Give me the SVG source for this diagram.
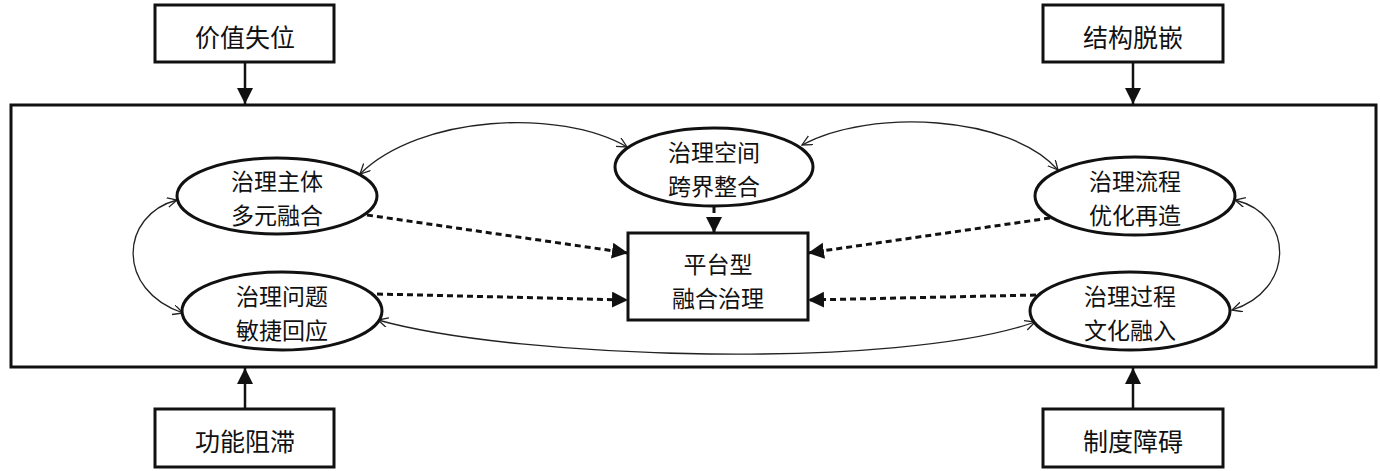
<svg xmlns="http://www.w3.org/2000/svg" width="1380" height="471" viewBox="0 0 1380 471">
<style>
  .box{fill:#fff;stroke:#111;stroke-width:3}
  .ell{fill:#fff;stroke:#111;stroke-width:3}
  .t{font-family:"Noto Sans CJK SC","Noto Sans CJK JP",sans-serif;font-size:23px;fill:#111;text-anchor:middle;dominant-baseline:central}
  .tb{font-size:25px}
  .solid{stroke:#111;stroke-width:2.5;fill:none;marker-end:url(#fill)}
  .dot{stroke:#111;stroke-width:3;stroke-dasharray:6,4;fill:none;marker-end:url(#fill)}
  .thin{stroke:#222;stroke-width:1.3;fill:none;marker-start:url(#open);marker-end:url(#open)}
</style>
<defs>
  <marker id="fill" markerUnits="userSpaceOnUse" markerWidth="18" markerHeight="18" refX="16" refY="8" orient="auto">
    <path d="M0,0 L16,8 L0,16 z" fill="#111"/>
  </marker>
  <marker id="open" markerUnits="userSpaceOnUse" markerWidth="12" markerHeight="12" refX="10" refY="5" orient="auto-start-reverse">
    <path d="M0,0 L10,5 L0,10" fill="none" stroke="#222" stroke-width="1.3"/>
  </marker>
</defs>
<rect x="11" y="105" width="1365" height="262" fill="#fff" stroke="#111" stroke-width="3"/>
<g id="connectors">
  <line class="solid" x1="245" y1="62" x2="245" y2="104"/>
  <line class="solid" x1="1133" y1="62" x2="1133" y2="104"/>
  <line class="solid" x1="245" y1="409" x2="245" y2="368"/>
  <line class="solid" x1="1133" y1="409" x2="1133" y2="368"/>
  <path class="thin" d="M360,174 C420,115 560,108 627,147"/>
  <path class="thin" d="M802,145 C870,108 1010,115 1058,170"/>
  <path class="thin" d="M177,200 C120,215 115,290 183,313"/>
  <path class="thin" d="M1235,200 C1295,215 1295,290 1232,310"/>
  <path class="thin" d="M378,320 C520,360 900,370 1035,322"/>
  <path class="dot" d="M367,215 L628,253"/>
  <path class="dot" d="M377,294 L628,300"/>
  <path class="dot" d="M1050,218 L808,253"/>
  <path class="dot" d="M1036,295 L808,300"/>
  <path class="dot" d="M714,207 L714,233"/>
</g>
<g id="n-jiazhi"><rect class="box" x="155" y="5" width="179" height="57"/><text class="t tb" x="245" y="36">价值失位</text></g>
<g id="n-jiegou"><rect class="box" x="1043" y="5" width="180" height="57"/><text class="t tb" x="1133" y="36">结构脱嵌</text></g>
<g id="n-gongneng"><rect class="box" x="155" y="409" width="179" height="58"/><text class="t tb" x="245" y="440">功能阻滞</text></g>
<g id="n-zhidu"><rect class="box" x="1043" y="409" width="180" height="58"/><text class="t tb" x="1133" y="440">制度障碍</text></g>
<g id="n-zhuti"><ellipse class="ell" cx="277" cy="196" rx="100" ry="38"/><text class="t"><tspan x="277" y="180">治理主体</tspan><tspan x="277" y="214">多元融合</tspan></text></g>
<g id="n-wenti"><ellipse class="ell" cx="282" cy="311" rx="100" ry="39"/><text class="t"><tspan x="282" y="295">治理问题</tspan><tspan x="282" y="329">敏捷回应</tspan></text></g>
<g id="n-kongjian"><ellipse class="ell" cx="714" cy="167" rx="99" ry="39"/><text class="t"><tspan x="714" y="151">治理空间</tspan><tspan x="714" y="185">跨界整合</tspan></text></g>
<g id="n-liucheng"><ellipse class="ell" cx="1135" cy="196" rx="100" ry="39"/><text class="t"><tspan x="1135" y="180">治理流程</tspan><tspan x="1135" y="214">优化再造</tspan></text></g>
<g id="n-guocheng"><ellipse class="ell" cx="1130" cy="311" rx="100" ry="39"/><text class="t"><tspan x="1130" y="295">治理过程</tspan><tspan x="1130" y="329">文化融入</tspan></text></g>
<g id="n-pingtai"><rect class="box" x="628" y="233" width="180" height="87"/><text class="t"><tspan x="718" y="263">平台型</tspan><tspan x="718" y="297">融合治理</tspan></text></g>
</svg>
